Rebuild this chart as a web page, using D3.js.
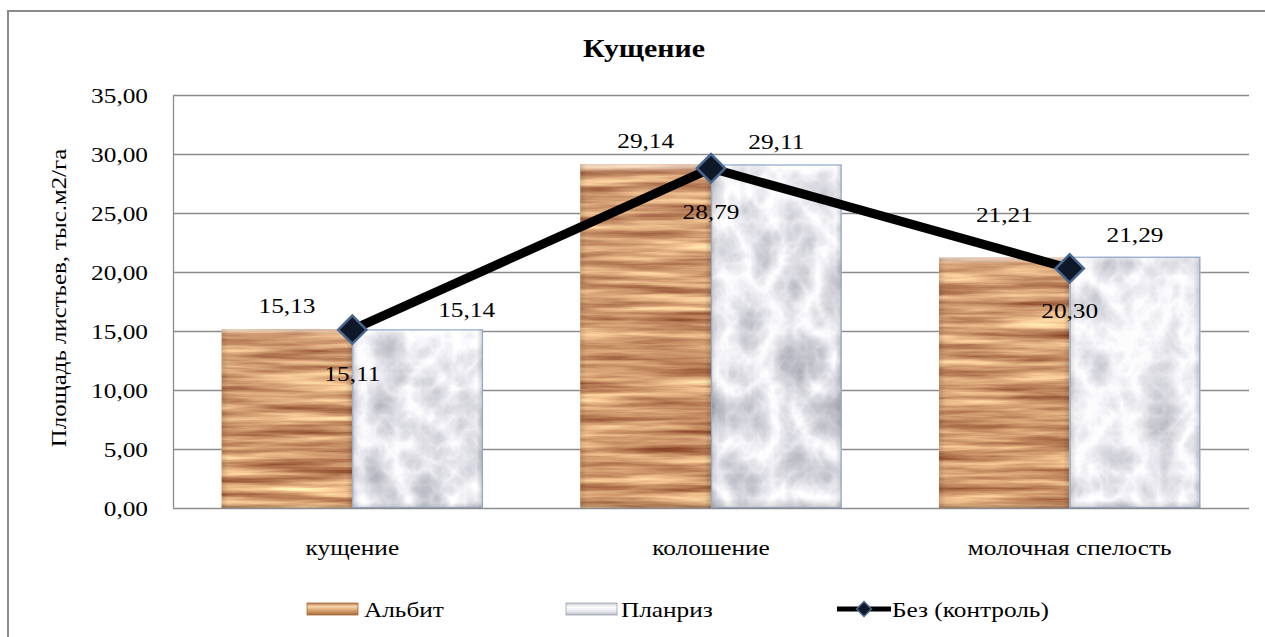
<!DOCTYPE html>
<html><head><meta charset="utf-8">
<script src="https://cdn.jsdelivr.net/npm/d3@7"></script>
<style>body{margin:0;background:#fff}svg{display:block}</style>
</head><body>
<svg id="c" width="1265" height="637"></svg>
<script>
const title = "Кущение";
const yAxisTitle = "Площадь листьев, тыс.м2/га";
const categories = ["кущение", "колошение", "молочная спелость"];
const seriesNames = ["Альбит", "Планриз", "Без (контроль)"];
const albit = [15.13, 29.14, 21.21];
const planriz = [15.14, 29.11, 21.29];
const control = [15.11, 28.79, 20.30];
const yTicks = [0, 5, 10, 15, 20, 25, 30, 35];
// manual label offsets (dx, dy) as placed in the original
const albitLabelOff = [[0,-16],[0,-16],[0,-36]];
const planrizLabelOff = [[49,-12],[0,-16],[0,-15]];
const controlLabelOff = [[0,51],[0,51],[0,50]];

const FONT = "'Liberation Serif', 'Times New Roman', serif";
const SX = 1.15;
const fmt = v => d3.format(".2f")(v).replace(".", ",");
const svg = d3.select("#c");
const defs = svg.append("defs");

// wood texture
const wood = defs.append("filter").attr("id","wood").attr("x",0).attr("y",0).attr("width",1).attr("height",1)
  .attr("color-interpolation-filters","sRGB");
wood.append("feTurbulence").attr("type","fractalNoise").attr("baseFrequency","0.008 0.13").attr("numOctaves",4).attr("seed",7).attr("result","n");
wood.append("feColorMatrix").attr("in","n").attr("type","matrix")
  .attr("values","0.7 0 0 0 0.47  0.85 0 0 0 0.18  0.7 0 0 0 0.08  0 0 0 0 1").attr("result","c");
wood.append("feComposite").attr("in","c").attr("in2","SourceGraphic").attr("operator","in");
// marble texture
const marble = defs.append("filter").attr("id","marble").attr("x",0).attr("y",0).attr("width",1).attr("height",1)
  .attr("color-interpolation-filters","sRGB");
marble.append("feTurbulence").attr("type","turbulence").attr("baseFrequency","0.022 0.018").attr("numOctaves",4).attr("seed",11).attr("result","n");
marble.append("feColorMatrix").attr("in","n").attr("type","matrix")
  .attr("values","-0.42 0 0 0 1.05  -0.42 0 0 0 1.05  -0.38 0 0 0 1.06  0 0 0 0 1").attr("result","c");
marble.append("feComposite").attr("in","c").attr("in2","SourceGraphic").attr("operator","in");

// bevel gradients
const gTop = defs.append("linearGradient").attr("id","bevelV").attr("x1",0).attr("y1",0).attr("x2",0).attr("y2",1);
gTop.append("stop").attr("offset","0").attr("stop-color","#fff").attr("stop-opacity",0.6);
gTop.append("stop").attr("offset","0.025").attr("stop-color","#fff").attr("stop-opacity",0.05);
gTop.append("stop").attr("offset","0.97").attr("stop-color","#000").attr("stop-opacity",0);
gTop.append("stop").attr("offset","1").attr("stop-color","#000").attr("stop-opacity",0.15);
const gSide = defs.append("linearGradient").attr("id","bevelH").attr("x1",0).attr("y1",0).attr("x2",1).attr("y2",0);
gSide.append("stop").attr("offset","0").attr("stop-color","#000").attr("stop-opacity",0.12);
gSide.append("stop").attr("offset","0.05").attr("stop-color","#000").attr("stop-opacity",0);
gSide.append("stop").attr("offset","0.95").attr("stop-color","#000").attr("stop-opacity",0);
gSide.append("stop").attr("offset","1").attr("stop-color","#000").attr("stop-opacity",0.15);
const lgA = defs.append("linearGradient").attr("id","legA").attr("x1",0).attr("y1",0).attr("x2",0).attr("y2",1);
[["0","#b77a48"],["0.3","#f6d7b0"],["0.6","#d9a571"],["1","#a86a3d"]].forEach(s=>lgA.append("stop").attr("offset",s[0]).attr("stop-color",s[1]));
const lgP = defs.append("linearGradient").attr("id","legP").attr("x1",0).attr("y1",0).attr("x2",0).attr("y2",1);
[["0","#c9cbd2"],["0.35","#ffffff"],["0.7","#e6e7ec"],["1","#b9bcc5"]].forEach(s=>lgP.append("stop").attr("offset",s[0]).attr("stop-color",s[1]));

function txt(x, y, s, o={}) {
  const g = svg.append("g").attr("transform", `translate(${x},${y})` + (o.rot ? ` rotate(${o.rot})` : "") + ` scale(${o.sx ?? SX},1)`);
  return g.append("text").attr("text-anchor", o.anchor || "middle").attr("font-family", FONT).attr("fill","#000")
    .attr("font-size", o.size || 22).attr("font-weight", o.bold ? "bold" : "normal").text(s);
}

// outer border
svg.append("rect").attr("x",8).attr("y",11).attr("width",1300).attr("height",700)
  .attr("fill","none").attr("stroke","#8a8a8a").attr("stroke-width",2);

const L = 173, R = 1249, T = 95, B = 508;
const y = d3.scaleLinear().domain([0,35]).range([B,T]);
const x0 = d3.scaleBand().domain(categories).range([L,R]).padding(0);
const x1 = d3.scaleBand().domain(["a","p"]).range([0,x0.bandwidth()]).paddingInner(0).paddingOuter(0.373);

// gridlines
svg.append("g").selectAll("line").data(yTicks.filter(t=>t>0)).join("line")
  .attr("x1",L).attr("x2",R).attr("y1",d=>y(d)+0.5).attr("y2",d=>y(d)+0.5)
  .attr("stroke","#8c8c8c").attr("stroke-width",1.3);

// y axis with d3
const yAxis = svg.append("g").attr("transform",`translate(${L},0)`)
  .call(d3.axisLeft(y).tickValues(yTicks).tickSize(0).tickPadding(0).tickFormat(fmt));
yAxis.select(".domain").attr("stroke","#8c8c8c").attr("stroke-width",1.3);
yAxis.selectAll("text").remove();
yTicks.forEach(t => txt(148, y(t)+8, fmt(t), {anchor:"end", size:22}));

// bars
categories.forEach((c,i) => {
  const cx = x0(c);
  [[albit[i],"a","url(#wood)","#d49a60",null],[planriz[i],"p","url(#marble)","#f2f2f2","#8fa8cc"]].forEach(([v,k,f,base,stroke]) => {
    const bx = cx + x1(k), bw = x1.bandwidth(), by = y(v), bh = y(0)-y(v);
    svg.append("rect").attr("x",bx).attr("y",by).attr("width",bw).attr("height",bh).attr("fill",base);
    svg.append("rect").attr("x",bx).attr("y",by).attr("width",bw).attr("height",bh).attr("fill","#fff").attr("filter",f);
    svg.append("rect").attr("x",bx).attr("y",by).attr("width",bw).attr("height",bh).attr("fill","url(#bevelV)");
    svg.append("rect").attr("x",bx).attr("y",by).attr("width",bw).attr("height",bh).attr("fill","url(#bevelH)");
    if (stroke) svg.append("rect").attr("x",bx+0.5).attr("y",by+0.5).attr("width",bw-1).attr("height",bh-1)
      .attr("fill","none").attr("stroke",stroke).attr("stroke-width",1.2);
  });
});

// x axis baseline
svg.append("line").attr("x1",L).attr("x2",R).attr("y1",B+0.5).attr("y2",B+0.5).attr("stroke","#8c8c8c").attr("stroke-width",1.3);

// control line
const cxp = c => x0(c) + x0.bandwidth()/2;
svg.append("path").datum(control.map((v,i)=>[cxp(categories[i]), y(v)]))
  .attr("d", d3.line()).attr("fill","none").attr("stroke","#000").attr("stroke-width",9).attr("stroke-linejoin","round");
const sym = d3.symbol(d3.symbolSquare, 400);
control.forEach((v,i) => {
  svg.append("path").attr("d", sym()).attr("transform",`translate(${cxp(categories[i])},${y(v)}) rotate(45)`)
    .attr("fill","#0e1828").attr("stroke","#48688f").attr("stroke-width",2.5);
});

// data labels
categories.forEach((c,i) => {
  const ax = x0(c)+x1("a")+x1.bandwidth()/2, px = x0(c)+x1("p")+x1.bandwidth()/2;
  txt(ax+albitLabelOff[i][0], y(albit[i])+albitLabelOff[i][1], fmt(albit[i]), {size:22});
  txt(px+planrizLabelOff[i][0], y(planriz[i])+planrizLabelOff[i][1], fmt(planriz[i]), {size:22});
  txt(cxp(c)+controlLabelOff[i][0], y(control[i])+controlLabelOff[i][1], fmt(control[i]), {size:22});
});

// category labels
categories.forEach(c => txt(cxp(c), 555, c, {size:22}));

// title
txt(644, 57, title, {size:26, bold:true, sx:1.15});

// y axis title
txt(66, 298, yAxisTitle, {size:22, rot:-90, sx:1.13});

// legend
svg.append("rect").attr("x",307).attr("y",603).attr("width",51).attr("height",12).attr("fill","url(#legA)").attr("stroke","#a56a3c").attr("stroke-width",0.8);
txt(364, 617, seriesNames[0], {anchor:"start", size:22});
svg.append("rect").attr("x",566).attr("y",603).attr("width",51).attr("height",12).attr("fill","url(#legP)").attr("stroke","#9aa0ad").attr("stroke-width",0.8);
txt(621, 617, seriesNames[1], {anchor:"start", size:22});
svg.append("line").attr("x1",837).attr("x2",891).attr("y1",609).attr("y2",609).attr("stroke","#000").attr("stroke-width",5);
svg.append("path").attr("d", d3.symbol(d3.symbolSquare, 110)()).attr("transform","translate(864,609) rotate(45)")
  .attr("fill","#0e1828").attr("stroke","#48688f").attr("stroke-width",1.5);
txt(892, 617, seriesNames[2], {anchor:"start", size:22});
</script>
</body></html>
